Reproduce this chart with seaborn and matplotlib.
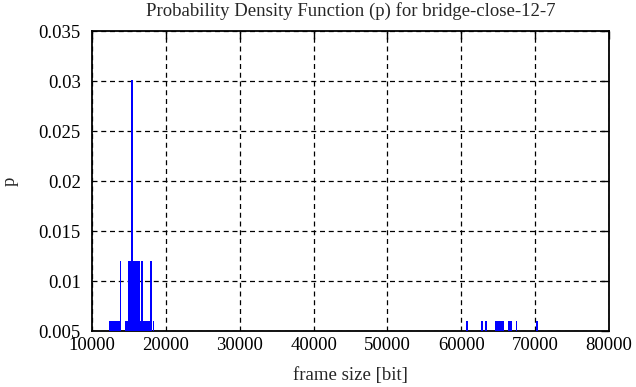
import matplotlib
matplotlib.use("Agg")
import matplotlib.pyplot as plt
from matplotlib.ticker import FuncFormatter
import seaborn as sns

# frame size ranges [bit] and their probability (runs of impulses)
seg_start = [12300, 13750, 14470, 14930, 15240, 15510, 16540, 16640, 16950, 17850, 18260,
             60640, 62680, 63260, 64570, 66300, 66620, 67370, 70110]
seg_end = [13750, 13970, 14930, 15240, 15510, 16540, 16640, 16950, 17850, 18120, 18440,
           60860, 62910, 63490, 65780, 66530, 66850, 67600, 70340]
seg_p = [0.00602, 0.01205, 0.00602, 0.01205, 0.0301, 0.01205, 0.00602, 0.01205, 0.00602, 0.01205, 0.00602,
         0.00602, 0.00602, 0.00602, 0.00602, 0.00602, 0.00602, 0.00602, 0.00602]

x_ticks = [10000, 20000, 30000, 40000, 50000, 60000, 70000, 80000]
y_ticks = [0.005, 0.01, 0.015, 0.02, 0.025, 0.03, 0.035]

sns.set_style("white")
plt.rcParams['font.family'] = ['Liberation Serif', 'DejaVu Serif']
plt.rcParams['font.size'] = 13.5

fig = plt.figure(figsize=(6.36, 3.87), dpi=100)
ax = fig.add_axes([92 / 636, 1 - 331 / 387, 517 / 636, 300 / 387])

edges = sorted(set(seg_start + seg_end))
mids = [(s + e) / 2 for s, e in zip(seg_start, seg_end)]
sns.histplot(x=mids, weights=seg_p, bins=edges, stat="count", color="#0000ff",
             alpha=1, linewidth=0, ax=ax, zorder=3)

ax.set_xlim(10000, 80000)
ax.set_ylim(0.005, 0.035)
ax.set_xticks(x_ticks)
ax.set_yticks(y_ticks)
fmt = FuncFormatter(lambda v, pos: "%g" % v)
ax.xaxis.set_major_formatter(fmt)
ax.yaxis.set_major_formatter(fmt)
ax.tick_params(direction="in", top=True, right=True, length=6, width=1, color="black",
               labelsize=13.5, labelcolor="black")
ax.tick_params(axis="y", pad=8)
ax.tick_params(axis="x", pad=4)

ax.set_axisbelow(True)
ax.grid(True, color="black", linestyle=(0, (4, 3)), linewidth=0.9)
for sp in ax.spines.values():
    sp.set_visible(True)
    sp.set_color("black")
    sp.set_linewidth(1.3)

ax.set_title("Probability Density Function (p) for bridge-close-12-7", fontsize=13.5, pad=11)
ax.set_xlabel("frame size [bit]", fontsize=13.5, labelpad=10)
ax.set_ylabel("p", fontsize=13.5, labelpad=14)

fig.savefig("out.png", dpi=100)
